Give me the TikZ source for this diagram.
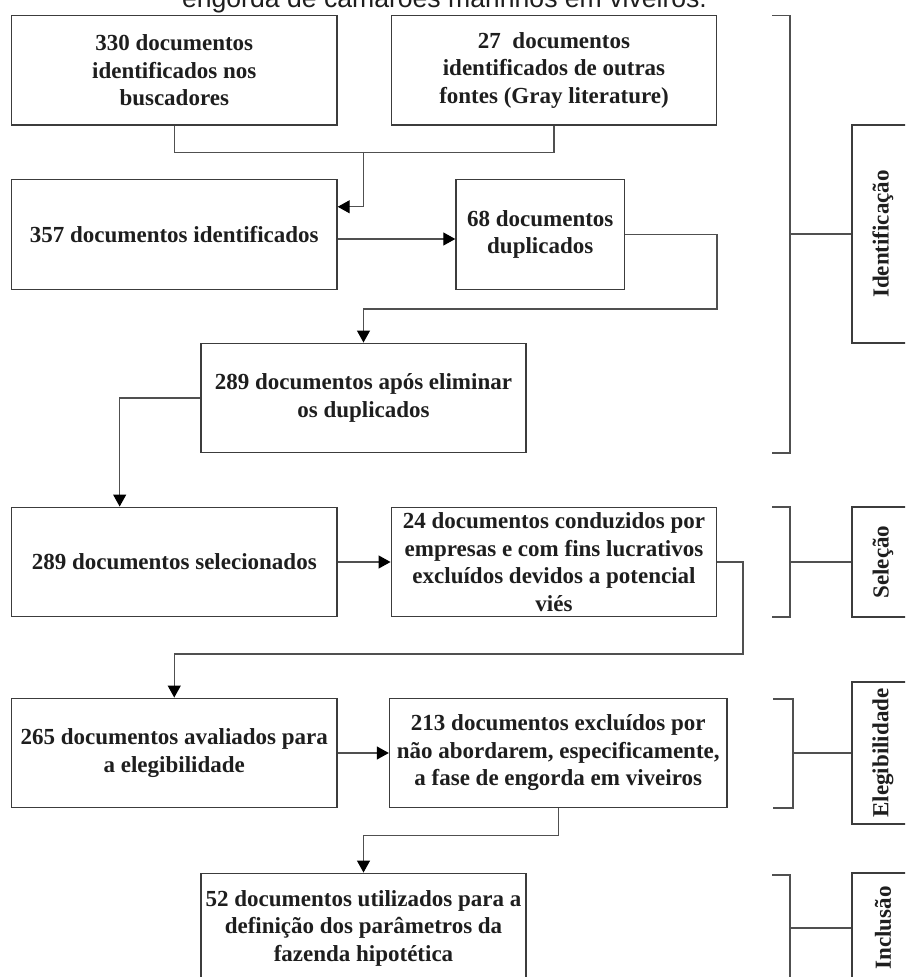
\documentclass[tikz,border=0pt]{standalone}
\usepackage{fontspec}
\setmainfont{Liberation Serif}
\newfontfamily\titlefont{Liberation Sans}
\usetikzlibrary{arrows.meta, calc, positioning}
\definecolor{boxline}{HTML}{3C3C3C}
\definecolor{linkgray}{HTML}{505050}
\definecolor{textdark}{HTML}{1E1E1E}
\newcommand{\boxfont}{\fontsize{11.5}{13.75}\selectfont\bfseries}

\begin{document}
\begin{tikzpicture}[x=0.5pt, y=-0.5pt,
  docbox/.style   = {draw=boxline, line width=0.7pt, minimum width=162.75pt, minimum height=54.75pt, align=center, inner sep=1pt, font=\boxfont, text=textdark},
  stagebox/.style = {draw=boxline, line width=0.7pt, rotate=90, minimum height=31pt, inner sep=0pt, font=\boxfont, text=textdark},
  arr/.style      = {-{Triangle[length=6pt,width=6.5pt,color=black]}, line width=0.6pt, color=linkgray},
  link/.style     = {line width=0.6pt, color=linkgray},
]
\useasboundingbox (0,0) rectangle (905,977);
\clip (0,0) rectangle (905,977);
%%--- title (cut at the top) ---
\node[font={\titlefont\fontsize{13.3}{16}\selectfont}, anchor=base, text=textdark, inner sep=0pt] (title) at (444.5,8) {engorda de camarões marinhos em viveiros.};
%%--- Identificação ---
\node[docbox] (srcdb)   at (174.25,70.25) {330 documentos\\identificados nos\\buscadores};
\node[docbox] (srcgray) at (554,70.25)    {27\ \ documentos\\identificados de outras\\fontes (Gray literature)};
\node[docbox] (ident)   at (174.25,234.5) {357 documentos identificados};
\node[docbox, minimum width=84.25pt] (dup) at (540.25,234.5) {68 documentos\\duplicados};
\node[docbox, minimum width=162.5pt] (nodup) at (363.5,398) {289 documentos após eliminar\\os duplicados};
\coordinate (abjoin) at (363.5,152);
\coordinate (identin) at ($(ident.north east)!0.25!(ident.south east)$);
\coordinate (dupturn) at (717,309);
\draw[link] (srcdb.south) -- ++(0,27) -| (srcgray.south);
\draw[arr] (abjoin) |- (identin);
\draw[arr] ([yshift=-2.25pt]ident.east) -- ([yshift=-2.25pt]dup.west);
\draw[arr] (dup.east) -| (dupturn) -| (nodup.north);
%%--- Seleção ---
\node[docbox] (selec) at (174.25,562) {289 documentos selecionados};
\node[docbox] (excl)  at (554,562)    {24 documentos conduzidos por\\empresas e com fins lucrativos\\excluídos devidos a potencial\\viés};
\coordinate (selecin) at ($(selec.north west)!0.333!(selec.north east)$);
\coordinate (exclturn) at (743,654);
\draw[arr] (nodup.west) -| (selecin);
\draw[arr] (selec.east) -- (excl.west);
%%--- Elegibilidade ---
\node[docbox] (eleg) at (174.25,753) {265 documentos avaliados para\\a elegibilidade};
\node[docbox, minimum width=168.75pt] (inel) at (558.25,753) {213 documentos excluídos por\\não abordarem, especificamente,\\a fase de engorda em viveiros};
\draw[arr] (excl.east) -| (exclturn) -| (eleg.north);
\draw[arr] (eleg.east) -- (inel.west);
%%--- Inclusão ---
\node[docbox, minimum width=162.5pt] (incl) at (363.5,928) {52 documentos utilizados para a\\definição dos parâmetros da\\fazenda hipotética};
\draw[arr] (inel.south) -- ++(0,27) -| (incl.north);
%%--- stage brackets and labels ---
\node[stagebox, minimum width=109pt] (stident) at (883,234)   {Identificação};
\node[stagebox, minimum width=55pt]  (stsel)   at (883,562)   {Seleção};
\node[stagebox, minimum width=71pt]  (steleg)  at (883,753)   {Elegibilidade};
\node[stagebox, minimum width=55pt]  (stinc)   at (883,928)   {Inclusão};
\draw[link] (772,15.5) -- (790,15.5) -- (790,453) -- (772,453);
\draw[link] (772,507) -- (790,507) -- (790,617) -- (772,617);
\draw[link] (773,699) -- (793,699) -- (793,808) -- (773,808);
\draw[link] (772,875) -- (790,875) -- (790,981) -- (772,981);
\coordinate (idbrk)  at (790,234);
\coordinate (selbrk) at (790,562);
\coordinate (elbrk)  at (793,753);
\coordinate (incbrk) at (790,928);
\draw[link] (idbrk) -- (stident.north);
\draw[link] (selbrk) -- (stsel.north);
\draw[link] (elbrk) -- (steleg.north);
\draw[link] (incbrk) -- (stinc.north);
\end{tikzpicture}
\end{document}
